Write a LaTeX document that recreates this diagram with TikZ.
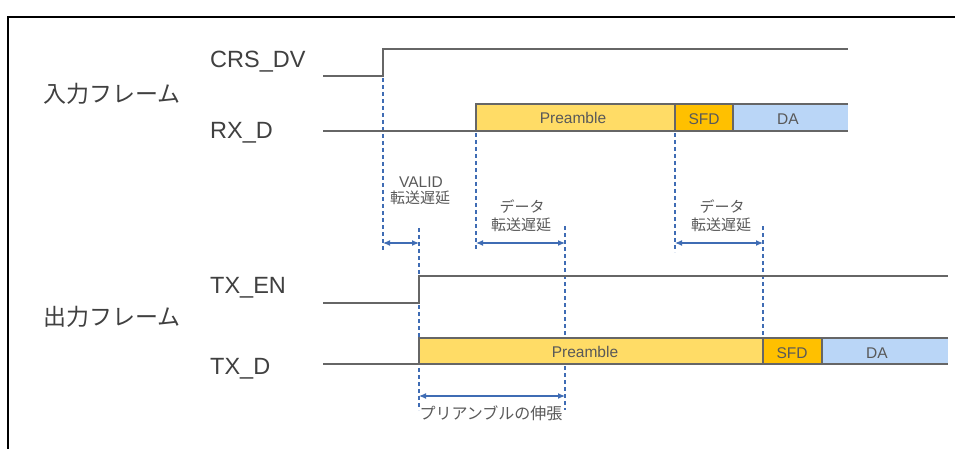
\documentclass[tikz,border=0pt]{standalone}
\usepackage{fontspec}
\setmainfont{Liberation Sans}
\newfontfamily\jp{Noto Sans CJK JP}
\usetikzlibrary{arrows.meta}
\definecolor{wave}{HTML}{666666}
\definecolor{txt}{HTML}{404040}
\definecolor{stxt}{HTML}{595959}
\definecolor{guide}{HTML}{3F6CB4}
\definecolor{prefill}{HTML}{FFDC66}
\definecolor{sfdfill}{HTML}{FFC000}
\definecolor{dafill}{HTML}{BAD6F7}
\tikzset{
  biglbl/.style={text=txt, font=\fontsize{23.5}{26}\selectfont, inner sep=0pt},
  jpbig/.style={text=txt, font=\jp\fontsize{23}{26}\selectfont, inner sep=0pt},
  small/.style={text=stxt, font=\fontsize{15.5}{17}\selectfont, inner sep=0pt},
  jpsmall/.style={text=stxt, font=\jp\fontsize{15}{17}\selectfont, inner sep=0pt},
  sig/.style={draw=wave, line width=1.5pt},
  guideline/.style={draw=guide, line width=1.3pt, dash pattern=on 4pt off 3pt},
  dim/.style={draw=guide, line width=1.2pt, {Latex[length=7pt,width=6pt]}-{Latex[length=7pt,width=6pt]}},
  fieldbox/.style={draw=wave, line width=1.5pt},
}
\begin{document}
\begin{tikzpicture}[x=1pt,y=-1pt]
\useasboundingbox (0,0) rectangle (955,449);
% frame
\draw[black, line width=2pt] (8,449) -- (8,17) -- (955,17);

% signal names
\node[biglbl, anchor=base west] (lcrs) at (210,68) {CRS\_DV};
\node[jpbig] (lin) at (112,94) {入力フレーム};
\node[biglbl, anchor=base west] (lrx) at (210,139) {RX\_D};
\node[biglbl, anchor=base west] (lten) at (210,293) {TX\_EN};
\node[jpbig] (lout) at (112,317) {出力フレーム};
\node[biglbl, anchor=base west] (ltxd) at (210,374) {TX\_D};

% key coordinates
\coordinate (crsL) at (323,76);
\coordinate (crsE) at (383,76);
\coordinate (crsH) at (383,49);
\coordinate (crsR) at (848,49);
\coordinate (rxL) at (323,131);
\coordinate (rxS) at (476,131);
\coordinate (tenL) at (323,303);
\coordinate (tenE) at (419,303);
\coordinate (tenH) at (419,276);
\coordinate (tenR) at (948,276);
\coordinate (txL) at (323,364);
\coordinate (txS) at (419,364);

% guide lines (drawn first)
\coordinate (g1t) at (383,78);  \coordinate (g1b) at (383,250);
\coordinate (g2t) at (419,228); \coordinate (g2b) at (419,410);
\coordinate (g3t) at (476,133); \coordinate (g3b) at (476,250);
\coordinate (g4t) at (565,226); \coordinate (g4b) at (565,410);
\coordinate (g5t) at (675,133); \coordinate (g5b) at (675,252);
\coordinate (g6t) at (763,226); \coordinate (g6b) at (763,338);
\draw[guideline] (g1t) -- (g1b);
\draw[guideline] (g2t) -- (g2b);
\draw[guideline] (g3t) -- (g3b);
\draw[guideline] (g4t) -- (g4b);
\draw[guideline] (g5t) -- (g5b);
\draw[guideline] (g6t) -- (g6b);

% CRS_DV
\draw[sig] (crsL) -- (crsE) -- (crsH) -- (crsR);
% RX_D
\draw[sig] (rxL) -- (rxS);
\fill[prefill] (476,104) rectangle (675,131);
\fill[sfdfill] (675,104) rectangle (733,131);
\fill[dafill] (733,104) rectangle (848,131);
\draw[fieldbox] (848,104) -- (476,104) -- (476,131) -- (848,131);
\draw[fieldbox] (675,104) -- (675,131);
\draw[fieldbox] (733,104) -- (733,131);
\node[small] (rxpre) at (573,118) {Preamble};
\node[small] (rxsfd) at (704,119) {SFD};
\node[small] (rxda) at (788,119) {DA};

% TX_EN
\draw[sig] (tenL) -- (tenE) -- (tenH) -- (tenR);
% TX_D
\draw[sig] (txL) -- (txS);
\fill[prefill] (419,338) rectangle (763,364);
\fill[sfdfill] (763,338) rectangle (822,364);
\fill[dafill] (822,338) rectangle (948,364);
\draw[fieldbox] (948,338) -- (419,338) -- (419,364) -- (948,364);
\draw[fieldbox] (763,338) -- (763,364);
\draw[fieldbox] (822,338) -- (822,364);
\node[small, fill=prefill, inner sep=1pt] (txpre) at (585,352) {Preamble};
\node[small] (txsfd) at (792,353) {SFD};
\node[small] (txda) at (877,353) {DA};

% delay labels
\node[small] (valid) at (421,182) {VALID};
\node[jpsmall] (vd) at (420,198) {転送遅延};
\node[jpsmall] (d1a) at (522,207) {データ};
\node[jpsmall] (d1b) at (521,225) {転送遅延};
\node[jpsmall] (d2a) at (722,207) {データ};
\node[jpsmall] (d2b) at (721,225) {転送遅延};

% dimension arrows
\coordinate (a1l) at (383,243); \coordinate (a1r) at (419,243);
\coordinate (a2l) at (476,243); \coordinate (a2r) at (565,243);
\coordinate (a3l) at (675,243); \coordinate (a3r) at (763,243);
\coordinate (a4l) at (419,396); \coordinate (a4r) at (565,396);
\draw[dim] (a1l) -- (a1r);
\draw[dim] (a2l) -- (a2r);
\draw[dim] (a3l) -- (a3r);
\draw[dim] (a4l) -- (a4r);
\node[jpsmall, font=\jp\fontsize{16}{18}\selectfont] (ext) at (491,413) {プリアンブルの伸張};
\end{tikzpicture}
\end{document}
